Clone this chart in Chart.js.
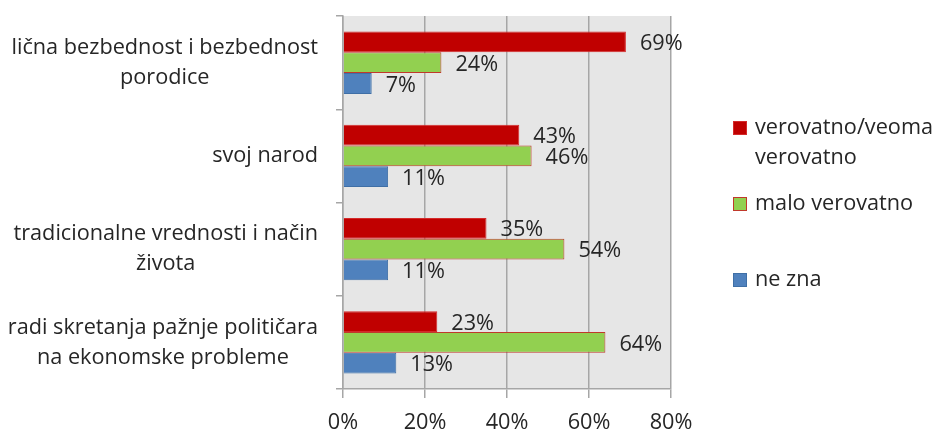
<!DOCTYPE html>
<html><head><meta charset="utf-8">
<script src="https://cdn.jsdelivr.net/npm/chart.js@4"></script>
<style>html,body{margin:0;padding:0;background:#fff}#wrap{width:939px;height:432px;position:relative}</style>
</head><body><div id="wrap"><canvas id="c" width="939" height="432"></canvas></div>
<script>
const categories = [
  ["lična bezbednost i bezbednost", "porodice"],
  ["svoj narod"],
  ["tradicionalne vrednosti i način", "života"],
  ["radi skretanja pažnje političara", "na ekonomske probleme"]
];
const seriesNames = [["verovatno/veoma", "verovatno"], ["malo verovatno"], ["ne zna"]];
const likely = [69, 43, 35, 23];
const unlikely = [24, 46, 54, 64];
const dontKnow = [7, 11, 11, 13];
const xTicks = [0, 20, 40, 60, 80];

const FONT = "'Open Sans', Lato, sans-serif";
const FS = 21.7;
const TXT = '#262626';
const colors = ['#C00000', '#92D050', '#4F81BD'];
const borders = ['#D42A2A', '#C0392B', '#3F6FA6'];

const plotBg = {
  id: 'plotBg',
  beforeDraw(chart) {
    const {ctx, chartArea: a} = chart;
    ctx.save(); ctx.fillStyle = '#E6E6E6';
    ctx.fillRect(a.left, a.top, a.right - a.left, a.bottom - a.top);
    ctx.restore();
  }
};

const extras = {
  id: 'extras',
  afterDraw(chart) {
    const ctx = chart.ctx;
    const y = chart.scales.y;
    ctx.save();
    ctx.fillStyle = TXT;
    ctx.font = FS + 'px ' + FONT;
    ctx.textBaseline = 'middle';
    categories.forEach((lines, i) => {
      const cy = y.getPixelForValue(i);
      const w = Math.max(...lines.map(l => ctx.measureText(l).width));
      const cx = 318 - w / 2;
      const lh = 30;
      const y0 = cy - (lines.length - 1) * lh / 2;
      ctx.textAlign = 'center';
      lines.forEach((l, k) => ctx.fillText(l, cx, y0 + k * lh));
    });
    ctx.textAlign = 'left';
    chart.data.datasets.forEach((ds, di) => {
      const meta = chart.getDatasetMeta(di);
      meta.data.forEach((bar, i) => {
        ctx.fillText(ds.data[i] + '%', bar.x + 14, bar.y + 2);
      });
    });
    const lx = 733, tx = 755;
    const items = [
      {c: 0, lines: seriesNames[0], y: 128, sq: 121},
      {c: 1, lines: seriesNames[1], y: 204, sq: 197},
      {c: 2, lines: seriesNames[2], y: 280, sq: 273}
    ];
    items.forEach(it => {
      ctx.fillStyle = colors[it.c];
      ctx.fillRect(lx, it.sq, 14, 14);
      ctx.strokeStyle = borders[it.c];
      ctx.lineWidth = 1;
      ctx.strokeRect(lx + 0.5, it.sq + 0.5, 13, 13);
      ctx.fillStyle = TXT;
      it.lines.forEach((l, k) => ctx.fillText(l, tx, it.y + k * 30));
    });
    ctx.restore();
  }
};

new Chart(document.getElementById('c'), {
  type: 'bar',
  data: {
    labels: categories.map(c => c.join(' ')),
    datasets: [
      {label: seriesNames[0].join(' '), data: likely},
      {label: seriesNames[1].join(' '), data: unlikely},
      {label: seriesNames[2].join(' '), data: dontKnow}
    ].map((d, i) => Object.assign(d, {
      backgroundColor: colors[i], borderColor: borders[i], borderWidth: 1,
      categoryPercentage: 0.67, barPercentage: 1
    }))
  },
  options: {
    indexAxis: 'y',
    responsive: false,
    animation: false,
    events: [],
    layout: {padding: {top: 13, right: 268, left: 0, bottom: 0}},
    plugins: {legend: {display: false}, tooltip: {enabled: false}},
    scales: {
      x: {
        min: xTicks[0], max: xTicks[xTicks.length - 1],
        afterBuildTicks(s) { s.ticks = xTicks.map(v => ({value: v})); },
        ticks: {callback: v => v + '%', color: TXT, font: {family: FONT, size: FS}, padding: 12},
        grid: {color: '#A6A6A6', lineWidth: 1.5, tickLength: 9, drawTicks: true},
        border: {color: '#A6A6A6', width: 1.5},
        afterFit(s) { s.height = 43; }
      },
      y: {
        offset: true,
        ticks: {color: 'rgba(0,0,0,0)', font: {family: FONT, size: FS}},
        grid: {offset: true, drawOnChartArea: false, color: '#A6A6A6', lineWidth: 1.5, tickLength: 7},
        border: {color: '#A6A6A6', width: 1.5},
        afterFit(s) { s.width = 343; }
      }
    }
  },
  plugins: [plotBg, extras]
});
</script></body></html>
